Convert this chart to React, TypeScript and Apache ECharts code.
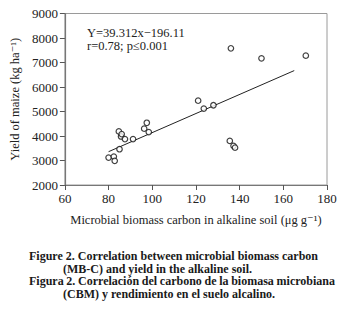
import React, { useEffect, useRef } from "react";
import * as echarts from "echarts";

const mbcX = [80, 82.4, 82.8, 85, 84.7, 85.7, 86, 87.5, 91.2, 97.5, 96.3, 98.4, 121, 123.6, 128, 136, 150, 170.3, 135.5, 137.2, 137.9];
const yieldY = [3120, 3160, 2985, 3460, 4185, 3980, 4080, 3875, 3875, 4540, 4300, 4160, 5440, 5120, 5255, 7580, 7170, 7280, 3800, 3600, 3525];
const fitX = [80, 165];
const fitY = [3360, 6670];
const xTicks = { min: 60, max: 180, interval: 20 };
const yTicks = { min: 2000, max: 9000, interval: 1000 };
const equationLines = ["Y=39.312x\u2212196.11", "r=0.78; p\u22640.001"];
const captionLines = [
  "Figure 2. Correlation between microbial biomass carbon",
  "(MB-C) and yield in the alkaline soil.",
  "Figura 2. Correlaci\u00f3n del carbono de la biomasa microbiana",
  "(CBM) y rendimiento en el suelo alcalino.",
];
const captionRightEdges = [318, 0, 335, 0];

const SERIF = "'Liberation Serif', 'DejaVu Serif', serif";
const CAP_FONT = 12;

export default function App() {
  const ref = useRef<HTMLDivElement>(null);
  useEffect(() => {
    if (!ref.current) return;
    const chart = echarts.init(ref.current, undefined, { renderer: "svg" });
    const points = mbcX.map((x, i) => [x, yieldY[i]]);
    const line = fitX.map((x, i) => [x, fitY[i]]);

    const capStyle = { fontFamily: SERIF, fontSize: CAP_FONT, fontWeight: "bold", fill: "#1a1a1a" };
    const measure = (w: string) =>
      new echarts.graphic.Text({ style: { ...capStyle, text: w } }).getBoundingRect().width;

    const captionGraphics: any[] = [];
    captionLines.forEach((t, i) => {
      const left = i % 2 === 0 ? 29 : 63;
      const y = 250 + i * 12.7;
      const right = captionRightEdges[i];
      if (right > 0) {
        const words = t.split(" ");
        const widths = words.map(measure);
        const total = widths.reduce((a, b) => a + b, 0);
        const gap = Math.max(2.5, (right - left - total) / (words.length - 1));
        let x = left;
        words.forEach((w, k) => {
          captionGraphics.push({ type: "text", x, y, style: { ...capStyle, text: w } });
          x += widths[k] + gap;
        });
      } else {
        captionGraphics.push({ type: "text", x: left, y, style: { ...capStyle, text: t } });
      }
    });

    chart.setOption({
      animation: false,
      backgroundColor: "#fff",
      textStyle: { fontFamily: SERIF },
      grid: {
        left: 57,
        right: 18,
        top: 13.5,
        bottom: 133,
        show: true,
        borderColor: "#9a9a9a",
        borderWidth: 1,
      },
      xAxis: {
        type: "value",
        ...xTicks,
        name: "Microbial biomass carbon in alkaline soil (\u03bcg g\u207b\u00b9)",
        nameLocation: "middle",
        nameGap: 28,
        nameTextStyle: { fontFamily: SERIF, fontSize: 12.5, color: "#222" },
        axisLine: { show: true, onZero: false, lineStyle: { color: "#777", width: 1.2 } },
        axisTick: { show: true, inside: false, length: 5, lineStyle: { color: "#555" } },
        axisLabel: { fontFamily: SERIF, fontSize: 13, color: "#222", margin: 7 },
        splitLine: { show: false },
      },
      yAxis: {
        type: "value",
        ...yTicks,
        name: "Yield of maize (kg ha\u207b\u00b9)",
        nameLocation: "middle",
        nameGap: 40,
        nameTextStyle: { fontFamily: SERIF, fontSize: 12.5, color: "#222" },
        axisLine: { show: true, onZero: false, lineStyle: { color: "#777", width: 1.2 } },
        axisTick: { show: true, inside: false, length: 5, lineStyle: { color: "#555" } },
        axisLabel: {
          fontFamily: SERIF,
          fontSize: 13,
          color: "#222",
          margin: 7,
          formatter: (v: number) => String(v),
        },
        splitLine: { show: false },
      },
      series: [
        {
          type: "line",
          data: line,
          symbol: "none",
          lineStyle: { color: "#222", width: 1 },
          silent: true,
          z: 1,
        },
        {
          type: "scatter",
          data: points,
          symbol: "circle",
          symbolSize: 5.5,
          itemStyle: { color: "#fff", borderColor: "#111", borderWidth: 1.2 },
          z: 2,
        },
      ],
      graphic: [
        ...equationLines.map((t, i) => ({
          type: "text",
          x: 87,
          y: 26 + i * 13.5,
          style: { text: t, fontFamily: SERIF, fontSize: 12.5, fill: "#222" },
        })),
        ...captionGraphics,
      ],
    });
    return () => chart.dispose();
  }, []);
  return (
    <div
      ref={ref}
      style={{ position: "fixed", left: 0, top: 0, width: 345, height: 318 }}
    />
  );
}
